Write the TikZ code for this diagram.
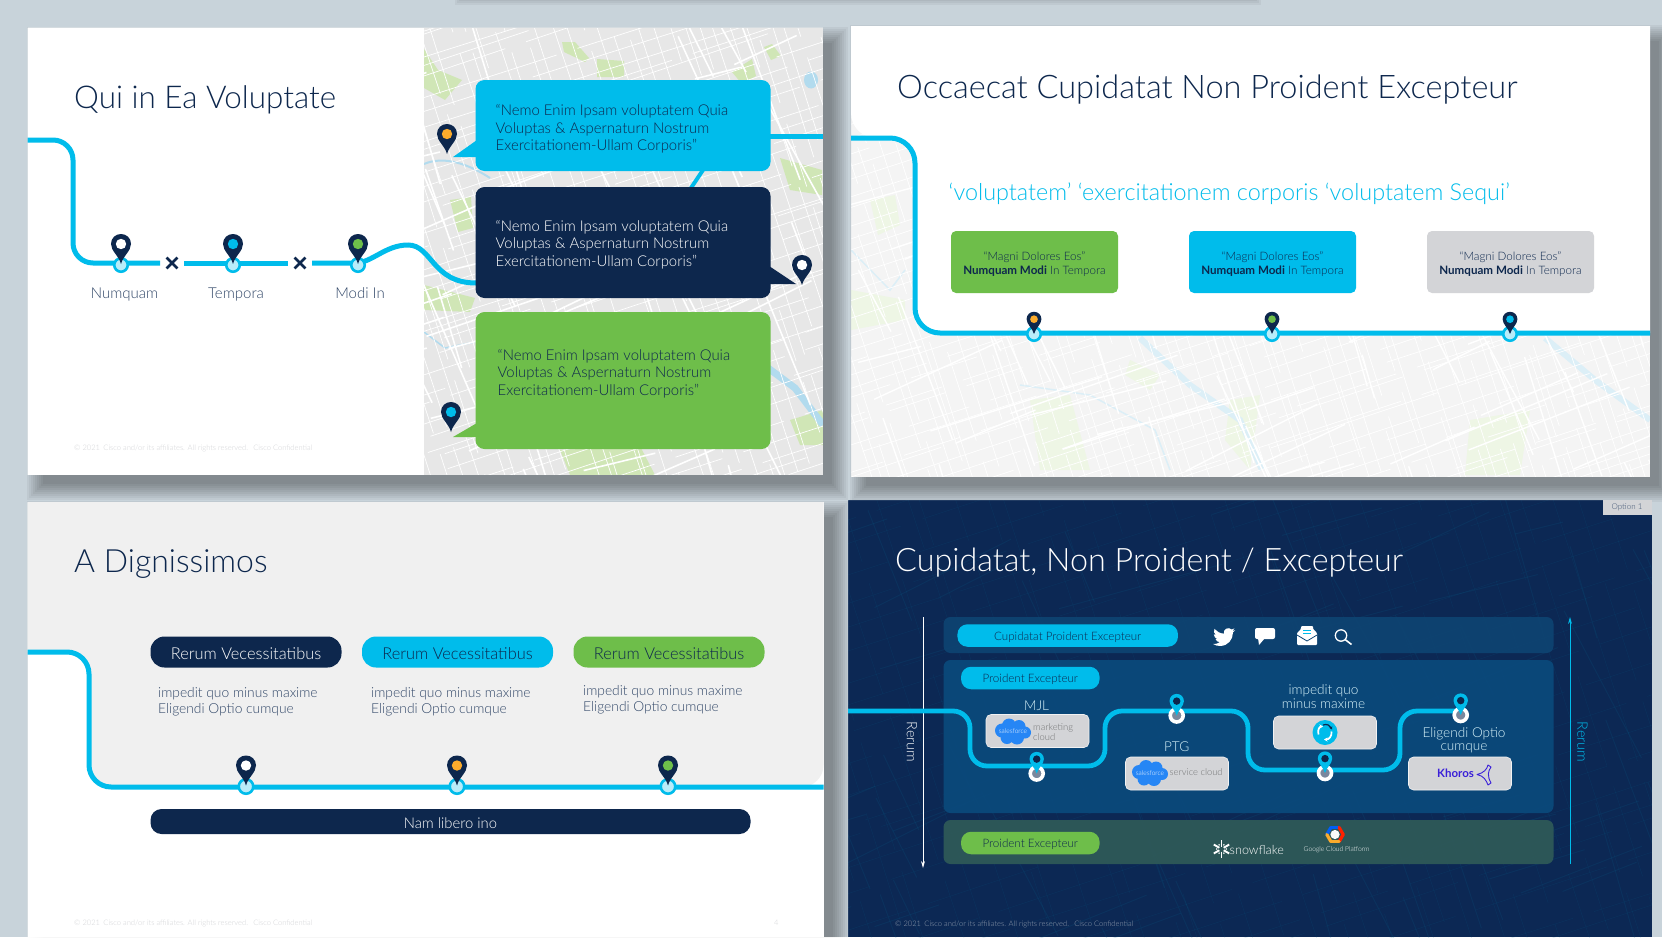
\documentclass[tikz,border=0pt]{standalone}
\usepackage{fontspec}
\setmainfont{Lato}[UprightFont=* Light,BoldFont=* Bold]
\usepackage{xcolor}
\usepackage{tikz}
\usetikzlibrary{arrows.meta,positioning,shapes.misc,calc}
\definecolor{citeNavy}{RGB}{13,39,77}
\definecolor{citeCyan}{RGB}{0,188,235}
\definecolor{citeGreen}{RGB}{110,190,74}
\definecolor{citeOrange}{RGB}{251,171,44}
\definecolor{citeGrey}{RGB}{211,212,215}
\definecolor{citeDesk}{RGB}{200,211,218}
\definecolor{citeMist}{RGB}{240,240,240}
\definecolor{citeLand}{RGB}{231,231,231}
\definecolor{citePark}{RGB}{208,230,182}
\definecolor{citeLake}{RGB}{178,219,238}
\definecolor{citePanel}{RGB}{10,74,124}
\definecolor{citeBand}{RGB}{14,68,114}
\definecolor{citeMoss}{RGB}{47,90,88}
\definecolor{citeNight}{RGB}{12,40,84}
\definecolor{citeKhoros}{RGB}{58,32,216}
\colorlet{citeRing}{citeCyan!28!white}
\newcommand{\fsz}[2]{\fontsize{#1}{#2}\selectfont}
\tikzset{
  headline/.style={anchor=west, inner sep=0pt, text=citeNavy, font=\fsz{32}{36}},
  route/.style={draw=citeCyan, line width=5pt, line cap=butt},
  bubble/.style={rectangle, rounded corners=9pt, fill=#1, inner sep=0pt, outer sep=0pt,
                 minimum width=295pt},
  quote/.style={anchor=west, inner sep=0pt, align=left, text=#1, font=\fsz{14.9}{17.6}},
  place/.style={anchor=base, inner sep=0pt, text=citeNavy!85!white, font=\fsz{15}{18}},
  stopmark/.style={cross out, draw=citeNavy, line width=2.8pt, minimum size=8pt, inner sep=0pt},
  pinring/.style={circle, draw=citeCyan, fill=citeRing, line width=2.6pt, minimum size=13.5pt, inner sep=0pt},
  pinwhite/.style={circle, draw=white, fill=citeNavy!55!white, line width=3.6pt, minimum size=13pt, inner sep=0pt},
  tile/.style={rectangle, rounded corners=5pt, fill=#1, minimum width=167pt, minimum height=62pt,
               inner sep=0pt, outer sep=0pt, align=center, text=citeNavy, font=\fsz{11.6}{13.6}},
  pill/.style={rectangle, rounded corners=14pt, fill=#1, minimum height=31pt, minimum width=191pt,
               inner sep=0pt, outer sep=0pt, text height=14pt, text depth=0pt, font=\fsz{16.4}{18}},
  note/.style={anchor=west, inner sep=0pt, align=left, text=citeNavy!85!white, font=\fsz{13.8}{16}},
  footer/.style={anchor=west, inner sep=0pt, text=#1, font=\fsz{7.55}{8}},
  panel/.style={rectangle, rounded corners=7pt, fill=#1, fill opacity=.92, minimum width=610pt,
                inner sep=0pt, outer sep=0pt},
  tag/.style={rectangle, rounded corners=10pt, fill=#1, inner sep=0pt, outer sep=0pt, minimum height=22.5pt,
              text=citeNavy, text height=12pt, text depth=2.3pt, font=\fsz{11.6}{13}},
  card/.style={rectangle, rounded corners=5pt, fill=citeGrey, draw=white!70!citeGrey, line width=.6pt,
               minimum width=103pt, minimum height=33pt, inner sep=0pt, outer sep=0pt},
  cardlabel/.style={inner sep=0pt, align=center, text=white!85!citeCyan, font=\fsz{13.6}{13.4}},
  road/.style={draw=white, line width=#1},
  darkroad/.style={draw=citeCyan!40!citeNavy, line width=#1, opacity=.16},
  flow/.style={-{Stealth[length=7pt,width=4pt]}, line width=.8pt, #1},
}
% a drop shadow, right and below
\newcommand{\slideshadow}[2]{
  \foreach \d in {-3,-1,...,13}{
    \fill[black,opacity=.045] ([shift={(12-\d,12-\d)}]#1) rectangle ([shift={(12+\d,12+\d)}]#2);
  }}
% pin: name, tip, scale, body, dot
\newcommand{\citypin}[5]{
  \begin{scope}[shift={(#2)},scale=#3]
    \coordinate (#1) at (0,0);
    \fill[#4] (0,0) .. controls (-2,-8) and (-10,-13) .. (-10,-20) .. controls (-10,-26) and (-5.5,-30) .. (0,-30)
      .. controls (5.5,-30) and (10,-26) .. (10,-20) .. controls (10,-13) and (2,-8) .. (0,0) -- cycle;
    \fill[#5] (0,-20) circle (5.2);
  \end{scope}}
% long streets: corner, corner, how many, angle, shortest, style
\newcommand{\citystreets}[8]{
  \foreach \i in {1,...,#5}{
    \pgfmathsetmacro\sx{#1+rnd*(#3-#1)}
    \pgfmathsetmacro\sy{#2+rnd*(#4-#2)}
    \pgfmathsetmacro\sa{#6+rnd*14-7}
    \pgfmathsetmacro\sl{#7+rnd*#7*3}
    \draw[#8] (\sx,\sy) -- ++(\sa:\sl);
  }}
% street blocks: centre, angle, half size, spacing, style
\newcommand{\cityblocks}[5]{
  \begin{scope}[shift={(#1)},rotate=#2]
    \pgfmathtruncatemacro\gn{2*#3/#4}
    \foreach \i in {1,...,\gn}{
      \pgfmathsetmacro\ga{(\i-\gn/2)*#4+rnd*#4*.6}
      \pgfmathsetmacro\gb{\ga+rnd*18-9}
      \pgfmathsetmacro\gd{50+rnd*150}
      \draw[#5, dash pattern=on \gd pt off 22pt] (\ga,-#3) -- (\gb,#3);
      \pgfmathsetmacro\ga{(\i-\gn/2)*#4+rnd*#4*.6}
      \pgfmathsetmacro\gb{\ga+rnd*18-9}
      \pgfmathsetmacro\gd{50+rnd*150}
      \draw[#5, dash pattern=on \gd pt off 22pt] (-#3,\ga) -- (#3,\gb);
    }
  \end{scope}}
% salesforce cloud
\newcommand{\sfcloud}[2]{
  \begin{scope}[shift={(#2)}]
    \fill[citeCyan!60!blue!85!white] (-11,-1) circle (7) (-4,-6) circle (7) (6,-5) circle (6.5) (12,1) circle (6)
      (4,6) circle (7) (-6,6) circle (6.5) (0,0) circle (9);
    \node[inner sep=0pt, text=white, font=\fsz{6.6}{7}] (#1) at (0,0) {salesforce};
  \end{scope}}
\begin{document}
\begin{tikzpicture}[x=1pt, y=-1pt]
  \useasboundingbox (0,0) rectangle (1662,937);
  \clip (0,0) rectangle (1662,937);

  % first slide, map side
  \fill[white] (27.5,27.5) rectangle (823,475);
  \begin{scope}
    \clip (424,27.5) rectangle (823,475);
    \fill[citeLand] (424,27.5) rectangle (823,475);
    \fill[citePark] (562,42) -- (575,42) -- (589,58) -- (585,62) -- (564,52) -- cycle
      (597,59) -- (624,61) -- (624,77) -- (597,77) -- cycle
      (732,72) -- (752,59) -- (756,76) -- (742,84) -- cycle
      (764,47) -- (772,44) -- (781,56) -- (771,60) -- cycle
      (424,49) -- (438,70) -- (462,80) -- (445,100) -- (424,88) -- cycle
      (450,200) -- (471,197) -- (473,228) -- (458,232) -- cycle
      (424,285) -- (475,298) -- (470,312) -- (424,310) -- cycle
      (780,158) -- (822,170) -- (822,195) -- (790,190) -- cycle
      (560,450) -- (640,446) -- (655,475) -- (570,475) -- cycle
      (790,420) -- (823,410) -- (823,445) -- (800,445) -- cycle;
    \fill[citeLake] (811,80) ellipse (7 and 8.5);
    \draw[citeLake, line width=2pt] (424,164) .. controls (445,155) and (470,165) .. (490,178);
    \draw[citeLake, line width=7pt] (768,368) -- (795,388) -- (823,425);
    \draw[citeLake, line width=1.5pt] (424,332) -- (445,348) -- (475,342);
    \pgfmathsetseed{41}
    \cityblocks{620,250}{18}{420}{14}{road=.7pt}
    \citystreets{390}{10}{830}{470}{30}{68}{45}{road=1.6pt}
    \citystreets{390}{10}{830}{470}{30}{160}{45}{road=1.6pt}
  \end{scope}

  % second slide, map side
  \begin{scope}
    \clip (851,26) rectangle (1650,477);
    \fill[citeMist!75!white] (851,26) rectangle (1650,477);
    \fill[citePark!35!white] (870,200) -- (895,195) -- (900,225) -- (878,235) -- cycle
      (851,290) -- (905,300) -- (905,320) -- (851,330) -- cycle
      (1030,400) -- (1070,395) -- (1090,470) -- (1040,470) -- cycle
      (1230,400) -- (1260,395) -- (1250,470) -- (1225,440) -- cycle
      (1470,420) -- (1530,410) -- (1520,475) -- (1465,475) -- cycle
      (1130,360) -- (1160,375) -- (1150,390) -- (1125,375) -- cycle;
    \draw[citeLake!45!white, line width=6pt] (1140,338) -- (1190,385) -- (1240,420) -- (1262,470);
    \draw[citeLake!45!white, line width=6pt] (1545,338) -- (1595,380) -- (1650,420);
    \draw[citeLake!45!white, line width=1.5pt] (851,250) -- (890,290) -- (905,270)
      (1020,385) -- (1090,395) -- (1155,430) -- (1170,470);
    \pgfmathsetseed{17}
    \cityblocks{1250,300}{18}{620}{13}{road=.7pt}
    \citystreets{830}{120}{1660}{470}{44}{68}{45}{road=1.4pt}
    \citystreets{830}{120}{1660}{470}{44}{160}{45}{road=1.4pt}
  \end{scope}

  % fourth slide, ground
  \begin{scope}
    \clip (848,500) rectangle (1652,937);
    \fill[citeNight] (848,500) rectangle (1652,937);
    \pgfmathsetseed{23}
    \cityblocks{1250,720}{18}{640}{26}{darkroad=.5pt}
    \citystreets{830}{480}{1660}{930}{36}{68}{45}{darkroad=1pt}
    \citystreets{830}{480}{1660}{930}{36}{160}{45}{darkroad=1pt}
  \end{scope}

  % desk and shadows, outside the slides
  \begin{scope}[even odd rule]
    \clip (0,0) rectangle (1662,937) (27.5,27.5) rectangle (823,475) (851,26) rectangle (1650,477)
      (27.5,502) rectangle (823.5,937) (848,500) rectangle (1652,937);
    \fill[citeDesk] (0,0) rectangle (1662,937);
    \slideshadow{456,-26}{1236,-20}
    \slideshadow{27.5,27.5}{823,475}
    \slideshadow{851,26}{1650,477}
    \slideshadow{27.5,502}{823.5,940}
  \end{scope}

  % first slide
  \node[headline, font=\fsz{31.4}{36}] (titleA) at (74,100) {Qui in Ea Voluptate};
  \draw[route, rounded corners=20pt] (27.5,140) -- (73,140) -- (73,263) -- (160,263);
  \draw[route] (184,263) -- (288,263);
  \draw[route] (312,263) -- (355,263) .. controls (372,263) and (385,245) .. (408,245)
    .. controls (432,245) and (432,283) .. (476,283);
  \draw[route, line width=4pt] (703,170) -- (691,188);
  \draw[route] (768,136) -- (823,136);
  \node[stopmark] (stopA) at (172,263) {};
  \node[stopmark] (stopB) at (300,263) {};
  \foreach \px/\pdot/\pname in {121/white/numquam,233/citeCyan/tempora,358/citeGreen/modi}{
    \node[pinring] (ring\pname) at (\px,265) {};
    \citypin{pin\pname}{\px,264}{1}{citeNavy}{\pdot}
  }
  \node[place] (labelA) at (124.5,298.5) {Numquam};
  \node[place] (labelB) at (236,298.5) {Tempora};
  \node[place] (labelC) at (360,298.5) {Modi In};
  \node[footer=citeGrey] (footA) at (74,448) {© 2021\, Cisco and/or its affiliates. All rights reserved.\,\, Cisco Confidential};
  \fill[citeCyan] (477,140) -- (453,157) -- (477,157) -- cycle;
  \fill[citeNavy] (769,266) -- (796,284) -- (769,284) -- cycle;
  \fill[citeGreen] (477,423) -- (453,437) -- (477,437) -- cycle;
  \node[bubble=citeCyan, minimum height=91pt] (quoteA) at (623,125.5) {};
  \node[bubble=citeNavy, minimum height=111pt] (quoteB) at (623,242.5) {};
  \node[bubble=citeGreen, minimum height=137pt] (quoteC) at (623,380.5) {};
  \node[quote=citeNavy] (textA) at (495.5,129) {“Nemo Enim Ipsam voluptatem Quia\\Voluptas \& Aspernaturn Nostrum\\Exercitationem-Ullam Corporis”};
  \node[quote=white] (textB) at (495.5,244.5) {“Nemo Enim Ipsam voluptatem Quia\\Voluptas \& Aspernaturn Nostrum\\Exercitationem-Ullam Corporis”};
  \node[quote=citeNavy] (textC) at (497.5,373.5) {“Nemo Enim Ipsam voluptatem Quia\\Voluptas \& Aspernaturn Nostrum\\Exercitationem-Ullam Corporis”};
  \citypin{pinA}{447,154}{1}{citeNavy}{citeOrange}
  \citypin{pinB}{802,285}{1}{citeNavy}{white}
  \citypin{pinC}{451,432}{1}{citeNavy}{citeCyan}

  % second slide
  \fill[white] (851,26) -- (1650,26) -- (1650,333) {[rounded corners=25pt] -- (915,333) -- (915,138) -- (851,138)} -- cycle;
  \draw[route, rounded corners=25pt] (851,138) -- (915,138) -- (915,333) -- (1650,333);
  \node[headline, font=\fsz{32.5}{36}] (titleB) at (897,89.5) {Occaecat Cupidatat Non Proident Excepteur};
  \node[anchor=west, inner sep=0pt, text=citeCyan, font=\fsz{23.4}{25}] (subtitle) at (948.5,193.5)
    {‘voluptatem’ ‘exercitationem corporis ‘voluptatem Sequi’};
  \node[tile=citeGreen] (tileA) at (1034.5,262) {\rule{0pt}{12.7pt}“Magni Dolores Eos”\\\textbf{Numquam Modi} In Tempora};
  \node[tile=citeCyan, right=71pt of tileA] (tileB) {\rule{0pt}{12.7pt}“Magni Dolores Eos”\\\textbf{Numquam Modi} In Tempora};
  \node[tile=citeGrey, right=71pt of tileB] (tileC) {\rule{0pt}{12.7pt}“Magni Dolores Eos”\\\textbf{Numquam Modi} In Tempora};
  \foreach \px/\pdot/\pname in {1034/citeOrange/tileA,1272/citeGreen/tileB,1510/citeCyan/tileC}{
    \node[pinring] (ring\pname) at (\px,334) {};
    \citypin{pin\pname}{\px,334}{.74}{citeNavy}{\pdot}
  }

  % third slide
  \fill[white] (27.5,502) rectangle (823.5,937);
  \fill[citeMist] (823.5,502) -- (27.5,502) -- (27.5,652) {[rounded corners=22pt] -- (89,652) -- (89,787) -- (823.5,787)} -- cycle;
  \draw[route, rounded corners=22pt] (27.5,652) -- (89,652) -- (89,787) -- (823.5,787);
  \node[headline] (titleC) at (74,564.5) {A Dignissimos};
  \node[pill=citeNavy, text=white] (pillA) at (246,652) {Rerum Vecessitatibus};
  \node[pill=citeCyan, text=citeNavy, right=20.5pt of pillA] (pillB) {Rerum Vecessitatibus};
  \node[pill=citeGreen, text=citeNavy, right=20.5pt of pillB] (pillC) {Rerum Vecessitatibus};
  \node[note] (noteA) at (158,701.5) {impedit quo minus maxime\\Eligendi Optio cumque};
  \node[note] (noteB) at (371,701.5) {impedit quo minus maxime\\Eligendi Optio cumque};
  \node[note] (noteC) at (583,700) {impedit quo minus maxime\\Eligendi Optio cumque};
  \foreach \px/\pdot/\pname in {246/white/pillA,457/citeOrange/pillB,668/citeGreen/pillC}{
    \node[pinring, minimum size=14.5pt] (ring\pname) at (\px,786.5) {};
    \citypin{pin\pname}{\px,785.5}{1}{citeNavy}{\pdot}
  }
  \node[rectangle, rounded corners=11pt, fill=citeNavy, text=white, minimum width=600pt, minimum height=25pt,
        inner sep=0pt, text height=13pt, text depth=0pt, font=\fsz{14.8}{16}] (bar) at (450.5,821.5) {Nam libero ino};
  \node[footer=citeGrey] (footC) at (74,923) {© 2021\, Cisco and/or its affiliates. All rights reserved.\,\, Cisco Confidential};
  \node[footer=citeGrey] (pageno) at (774,923) {4};

  % fourth slide
  \node[rectangle, fill=citeGrey, text=citeNavy!80!white, minimum width=49pt, minimum height=15pt, inner sep=0pt,
        font=\fsz{8}{9}] (optionTag) at (1627,507.5) {Option 1};
  \node[headline, text=white, font=\fsz{32.3}{36}] (titleD) at (895,563) {Cupidatat, Non Proident / Excepteur};
  \node[panel=citeBand, minimum height=36pt] (bandA) at (1248.5,635) {};
  \node[panel=citePanel, minimum height=153pt] (bandB) at (1248.5,736.5) {};
  \node[panel=citeMoss, minimum height=44pt] (bandC) at (1248.5,842) {};
  \node[tag=citeCyan, minimum width=220.5pt] (tagA) at (1067.7,635.5) {Cupidatat Proident Excepteur};
  \node[tag=citeCyan, minimum width=138.5pt] (tagB) at (1030.3,678) {Proident Excepteur};
  \node[tag=citeGreen, minimum width=138.5pt] (tagC) at (1030.3,843) {Proident Excepteur};
  % icons
  \begin{scope}[shift={(1213,626)},scale=.92]
    \fill[white] (24,4.6) .. controls (23,5) and (22.2,5.25) .. (21.1,5.35) .. controls (22.1,4.7) and (22.9,3.8) .. (23.3,2.6)
      .. controls (22.3,3.2) and (21.3,3.6) .. (20.2,3.8) .. controls (17,.5) and (10.8,3.2) .. (11.8,8.3)
      .. controls (7.7,8.1) and (4.1,6.1) .. (1.6,3.2) .. controls (.3,5.4) and (1,8.3) .. (3.2,9.7)
      .. controls (2.4,9.7) and (1.6,9.5) .. (.9,9.1) .. controls (.9,11.5) and (2.6,13.5) .. (4.9,14)
      .. controls (4.2,14.2) and (3.4,14.2) .. (2.7,14.1) .. controls (3.3,16.1) and (5.2,17.5) .. (7.3,17.5)
      .. controls (5.6,18.9) and (3.4,19.6) .. (1.2,19.6) -- (0,19.5) .. controls (2.2,21) and (4.9,21.7) .. (7.6,21.7)
      .. controls (16.6,21.7) and (21.6,14.2) .. (21.6,7.7) -- (21.6,7.1) .. controls (22.6,6.4) and (23.3,5.6) .. (24,4.6) -- cycle;
  \end{scope}
  \fill[white, rounded corners=2pt] (1255,628) rectangle (1275,639);
  \fill[white] (1258,638) -- (1259,645) -- (1265,638) -- cycle;
  \fill[white, rounded corners=1pt] (1297,633) -- (1301,629) -- (1301,626) -- (1313,626) -- (1313,629) -- (1317,633) -- (1317,645) -- (1297,645) -- cycle;
  \draw[citeCyan, line width=1pt] (1303,630) -- (1311,630) (1303,633) -- (1311,633);
  \draw[citeBand, line width=.8pt] (1297,635) -- (1307,641) -- (1317,635);
  \draw[white, line width=1.3pt] (1341,635.5) circle (5.7);
  \draw[white, line width=1.6pt] (1345.2,639.6) -- (1351.5,644.5);

  \draw[flow=white] (923,617) -- (923,868);
  \draw[flow=citeCyan] (1570,864) -- (1570,617);
  \node[rotate=-90, inner sep=0pt, text=white!85!citeDesk, font=\fsz{14.4}{15}] (rerumA) at (912,742) {Rerum};
  \node[rotate=-90, inner sep=0pt, text=citeCyan, font=\fsz{14.4}{15}] (rerumB) at (1582.5,742) {Rerum};

  \draw[route, line width=4.8pt, rounded corners=17pt] (848,711) -- (970,711) -- (970,766) -- (1105,766) -- (1105,711)
    -- (1248,711) -- (1248,770) -- (1400,770) -- (1400,711) -- (1461,711);

  \node[card] (cardA) at (1037.5,731) {};
  \node[card] (cardB) at (1177,773.5) {};
  \node[card] (cardC) at (1325,732.5) {};
  \node[card] (cardD) at (1460,773.5) {};
  \sfcloud{cloudA}{1013,731.5}
  \sfcloud{cloudB}{1150,773}
  \node[anchor=west, inner sep=0pt, align=left, text=black!45!citeGrey, font=\fsz{9.4}{9.6}] (mktText) at (1033,732) {marketing\\cloud};
  \node[anchor=west, inner sep=0pt, text=black!45!citeGrey, font=\fsz{9.4}{10}] (svcText) at (1169.5,772) {service cloud};
  \fill[citeCyan] (cardC.center) circle (12.5);
  \draw[white, line width=1.7pt, -{Stealth[length=3.5pt,width=4pt]}] ($(cardC.center)+(-6.5,2)$) .. controls ($(cardC.center)+(-8,-3)$) and ($(cardC.center)+(-5,-6)$) .. ($(cardC.center)+(-2,-6)$);
  \draw[white, line width=1.7pt, -{Stealth[length=3.5pt,width=4pt]}] ($(cardC.center)+(6.5,-1)$) .. controls ($(cardC.center)+(7,4)$) and ($(cardC.center)+(4,7)$) .. ($(cardC.center)+(-1,7)$);
  \draw[citeNavy, line width=1.2pt, -{Stealth[length=3pt,width=3.5pt]}] ($(cardC.center)+(-2,-7.5)$) .. controls ($(cardC.center)+(2,-9)$) and ($(cardC.center)+(5,-7)$) .. ($(cardC.center)+(7,-3)$);
  \node[anchor=west, inner sep=0pt, text=citeKhoros, font=\fsz{11.5}{13}\bfseries] (khoros) at (1437,773) {Khoros};
  \draw[citeKhoros, line width=.9pt, line join=round] (1477,774.5) .. controls (1484,773) and (1487,769) .. (1488,765) -- (1491,767)
    .. controls (1488,771) and (1487,776) .. (1491,783) -- (1488,785) .. controls (1486,780) and (1484,776) .. (1477,774.5) -- cycle;

  \node[cardlabel] (mjl) at (1036.6,705.5) {MJL};
  \node[cardlabel] (ptg) at (1176.7,746.5) {PTG};
  \node[cardlabel] (impedit) at (1323.5,696.5) {impedit quo\\minus maxime};
  \node[cardlabel] (eligendi) at (1464,740.5) {Eligendi Optio\\cumque};

  \foreach \px/\py/\pname in {1036.7/773.5/cardA,1176.7/715.5/cardB,1325/773/cardC,1460.7/715/cardD}{
    \node[pinwhite] (ring\pname) at (\px,\py) {};
    \citypin{pin\pname}{\px,\py}{.72}{citeCyan}{citeNavy}
  }

  % snowflake and cloud logos
  \foreach \a in {30,90,...,330}{
    \draw[white, line width=1.9pt] (1221.5,849) ++(\a:2.5) -- ++(\a:6.4);
    \fill[white] (1221.5,849) ++(\a+30:4.8) circle (.9);
  }
  \node[anchor=west, inner sep=0pt, text=white, font=\fsz{12.6}{14}] (snowflake) at (1229.5,849.5) {snowflake};
  \begin{scope}[shift={(1335,834.5)}]
    \foreach \a/\b/\c in {180/240/citeCyan!50!blue,240/300/citeCyan!50!blue,300/360/red!75!orange,0/60/red!75!orange,60/120/citeOrange,120/180/citeOrange}{
      \draw[\c, line width=3.2pt, line cap=round] (\a:8.2) -- (\b:8.2);
    }
    \fill[white!85!citeGrey] (0,0) circle (4.6);
  \end{scope}
  \node[inner sep=0pt, text=white!90!citeDesk, font=\fsz{6.7}{8}] (gcp) at (1336.6,850) {Google Cloud Platform};
  \node[footer=citeNavy!45!white] (footD) at (895,924) {© 2021\, Cisco and/or its affiliates. All rights reserved.\,\, Cisco Confidential};
\end{tikzpicture}
\end{document}
